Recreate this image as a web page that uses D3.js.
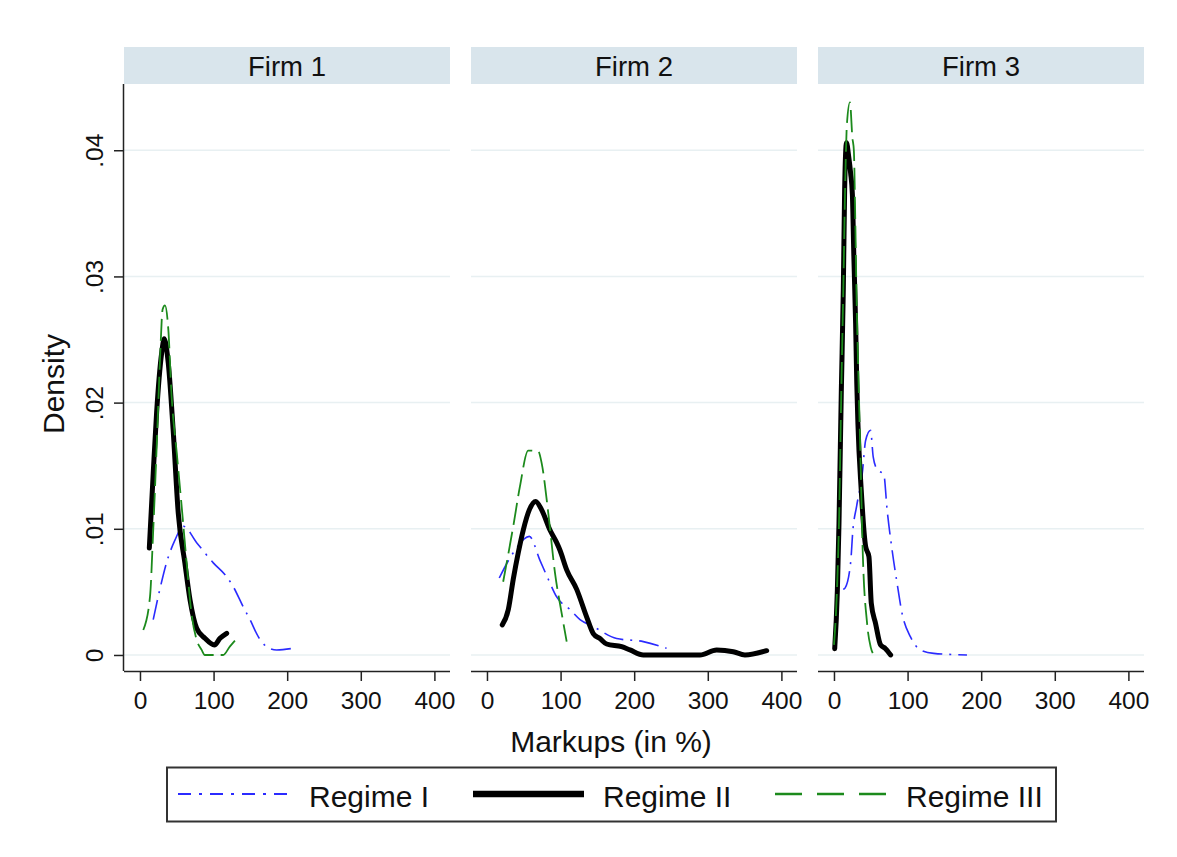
<!DOCTYPE html>
<html>
<head>
<meta charset="utf-8">
<script src="https://cdn.jsdelivr.net/npm/d3@7"></script>
<style>
  html, body { margin: 0; padding: 0; background: #fff; }
  svg { display: block; font-family: "Liberation Sans", Arial, sans-serif; }
</style>
</head>
<body>
<svg id="chart" width="1177" height="857"></svg>
<script>
// ---------------- DATA ----------------
const firms = ["Firm 1", "Firm 2", "Firm 3"];
const regimes = ["Regime I", "Regime II", "Regime III"];
const xTicks = [0, 100, 200, 300, 400];
const yTicks = [0, 0.01, 0.02, 0.03, 0.04];
const yTickLabels = ["0", ".01", ".02", ".03", ".04"];
const xTitle = "Markups (in %)";
const yTitle = "Density";

// Firm 1: [markup, density]
const firm1RegimeI = [[18,0.0028],[27,0.0052],[36,0.0073],[47.5,0.0091],[59,0.0102],[77,0.0089],[99.6,0.0073],[117.8,0.0062],[126.8,0.0054],[140.4,0.0038],[149.5,0.0028],[160.7,0.00145],[172,0.00066],[185.7,0.0004],[208,0.00053]];
const firm1RegimeII = [[12.7,0.00847],[18,0.0144],[22.6,0.0192],[29.4,0.0239],[33,0.02506],[38.5,0.0231],[45,0.0179],[52,0.01125],[61,0.0073],[68,0.00437],[77,0.00212],[88.3,0.00132],[101,0.00079],[108.7,0.00132],[117.8,0.00172]];
const firm1RegimeIII = [[4.5,0.00198],[13.6,0.0046],[18,0.0099],[22.7,0.0165],[27,0.0231],[30.8,0.0274],[34,0.0277],[38.5,0.0258],[43,0.0205],[50,0.016],[56.6,0.0118],[63.4,0.0073],[70,0.0033],[77,0.0012],[83.8,0.0004],[88,0],[113,0],[122,0.00066],[129,0.00114]];

// Firm 2
const firm2RegimeI = [[16.7,0.0061],[35.7,0.0081],[57.5,0.0094],[72,0.0075],[83.3,0.006],[94.7,0.0046],[112.8,0.0036],[126.4,0.0028],[144.4,0.00225],[176.2,0.0013],[212.4,0.00106],[244,0.00053]];
const firm2RegimeII = [[20.8,0.00238],[29,0.0036],[35.7,0.006],[42.5,0.0081],[49.3,0.0099],[57.5,0.0115],[66.2,0.01217],[74.3,0.0115],[85.6,0.0099],[94.7,0.0089],[99.2,0.0083],[108.3,0.00675],[121.9,0.0052],[135.5,0.003],[144.4,0.0017],[153.5,0.0013],[162.6,0.00087],[183,0.00066],[194.3,0.0004],[212.4,0],[289.4,0],[312,0.0004],[334.6,0.00026],[350.5,0],[380,0.00034]];
const firm2RegimeIII = [[22,0.0058],[35.7,0.0102],[44.8,0.01336],[56,0.0162],[69.7,0.01614],[74.3,0.0152],[83.3,0.01125],[92.4,0.0065],[101.5,0.0033],[108.3,0.00106]];

// Firm 3
const firm3RegimeI = [[12.5,0.0052],[15,0.0053],[22.6,0.0073],[25.7,0.0099],[30.8,0.0118],[38.5,0.0144],[43,0.017],[49.7,0.0178],[53.3,0.0157],[58.7,0.0147],[67.7,0.0143],[72.2,0.0115],[79,0.0083],[85.7,0.0057],[92.5,0.0033],[103.8,0.00145],[117.4,0.0004],[135.5,0.00013],[180.7,0]];
const firm3RegimeII = [[1,0.0005],[4.6,0.0051],[6.8,0.0104],[10,0.021],[12.7,0.029],[14.5,0.0369],[17,0.0406],[20,0.0395],[22.6,0.0382],[25,0.0365],[27,0.0316],[29.4,0.0263],[31,0.0215],[32.5,0.0184],[37,0.0131],[43,0.0086],[47.5,0.0078],[50.7,0.0041],[56.5,0.0025],[63.3,0.0008],[70,0.0005],[77,0]];
const firm3RegimeIII = [[0,0.0008],[4,0.005],[7,0.011],[10,0.021],[13,0.03],[15.5,0.038],[17.5,0.042],[21.7,0.0438],[25,0.041],[27,0.040],[29,0.0343],[30.5,0.029],[33.7,0.021],[36,0.0157],[39,0.0083],[45,0.0025],[50,0.0006],[54,0]];

const panelSeries = [
  [firm1RegimeI, firm1RegimeII, firm1RegimeIII],
  [firm2RegimeI, firm2RegimeII, firm2RegimeIII],
  [firm3RegimeI, firm3RegimeII, firm3RegimeIII]
];

// ---------------- STYLE ----------------
const styles = [
  { color: "#2b2bff", width: 1.6, dash: "20,7,2,7", legendDash: "13,8,3,8", legendWidth: 2.2 },
  { color: "#000000", width: 5, dash: null, legendDash: null, legendWidth: 6.5 },
  { color: "#1c8a1c", width: 1.8, dash: "22,7", legendDash: "27,15", legendWidth: 2.4 }
];

const svg = d3.select("#chart");
svg.append("rect").attr("width", 1177).attr("height", 857).attr("fill", "#fff");

const panelLefts = [124, 471, 818];
const panelWidth = 326;
const plotTop = 84, plotBottom = 671;
const headerTop = 47;

const y = d3.scaleLinear().domain([-0.00127, 0.04525]).range([plotBottom, plotTop]);

firms.forEach((firm, i) => {
  const left = panelLefts[i];
  const x = d3.scaleLinear().domain([-21.7, 421.2]).range([left, left + panelWidth]);
  const g = svg.append("g");

  // header strip
  g.append("rect").attr("x", left).attr("y", headerTop)
    .attr("width", panelWidth).attr("height", plotTop - headerTop)
    .attr("fill", "#d9e5ec");
  g.append("text").attr("x", left + panelWidth / 2).attr("y", 76)
    .attr("text-anchor", "middle").attr("font-size", 27.5).attr("fill", "#111")
    .text(firm);

  // gridlines
  g.selectAll(".grid").data(yTicks).enter().append("line")
    .attr("x1", left).attr("x2", left + panelWidth)
    .attr("y1", d => y(d)).attr("y2", d => y(d))
    .attr("stroke", "#e8f0f2").attr("stroke-width", 1.5);

  // x axis
  const xAxis = d3.axisBottom(x).tickValues(xTicks).tickSize(10).tickPadding(11)
    .tickFormat(d3.format("d"));
  const xg = g.append("g").attr("transform", `translate(0,${plotBottom})`).call(xAxis);
  xg.select(".domain").attr("d", `M${left},0.5H${left + panelWidth}`)
    .attr("stroke", "#222").attr("stroke-width", 1.5);
  xg.selectAll(".tick line").attr("stroke", "#222").attr("stroke-width", 1.5);
  xg.selectAll(".tick text").attr("font-size", 24.5).attr("fill", "#111")
    .attr("font-family", "Liberation Sans, Arial, sans-serif");

  // y axis only on first panel
  if (i === 0) {
    const yAxis = d3.axisLeft(y).tickValues(yTicks).tickSize(10).tickPadding(0)
      .tickFormat((d, k) => yTickLabels[k]);
    const yg = g.append("g").attr("transform", `translate(${left},0)`).call(yAxis);
    yg.select(".domain").attr("d", `M-0.5,${plotTop}V${plotBottom}`)
      .attr("stroke", "#222").attr("stroke-width", 1.5);
    yg.selectAll(".tick line").attr("stroke", "#222").attr("stroke-width", 1.5);
    yg.selectAll(".tick text")
      .attr("font-size", 24.5).attr("fill", "#111")
      .attr("font-family", "Liberation Sans, Arial, sans-serif")
      .attr("text-anchor", "middle").attr("x", 0).attr("dy", 0)
      .attr("transform", "translate(-21,0) rotate(-90)")
      .attr("y", 0);
  }

  // curves
  const line = d3.line().x(d => x(d[0])).y(d => y(d[1])).curve(d3.curveMonotoneX);
  panelSeries[i].forEach((series, s) => {
    const st = styles[s];
    g.append("path").datum(series)
      .attr("d", line)
      .attr("fill", "none")
      .attr("stroke", st.color)
      .attr("stroke-width", st.width)
      .attr("stroke-linejoin", "round")
      .attr("stroke-linecap", s === 1 ? "round" : "butt")
      .attr("stroke-dasharray", st.dash);
  });
});

// axis titles
svg.append("text").attr("x", 611).attr("y", 752)
  .attr("text-anchor", "middle").attr("font-size", 30).attr("fill", "#111")
  .text(xTitle);
svg.append("text").attr("transform", "translate(64,384) rotate(-90)")
  .attr("text-anchor", "middle").attr("font-size", 30).attr("fill", "#111")
  .text(yTitle);

// legend
const lg = svg.append("g");
lg.append("rect").attr("x", 167).attr("y", 767.5).attr("width", 889).attr("height", 54)
  .attr("fill", "#fff").attr("stroke", "#333").attr("stroke-width", 2);
const legendLineX = [[178, 290], [473, 584], [775, 887]];
const legendTextX = [309, 603, 906];
regimes.forEach((r, s) => {
  const st = styles[s];
  lg.append("line").attr("x1", legendLineX[s][0]).attr("x2", legendLineX[s][1])
    .attr("y1", 794).attr("y2", 794)
    .attr("stroke", st.color).attr("stroke-width", st.legendWidth)
    .attr("stroke-dasharray", st.legendDash);
  lg.append("text").attr("x", legendTextX[s]).attr("y", 806.5)
    .attr("font-size", 30).attr("fill", "#111").text(r);
});
</script>
</body>
</html>
